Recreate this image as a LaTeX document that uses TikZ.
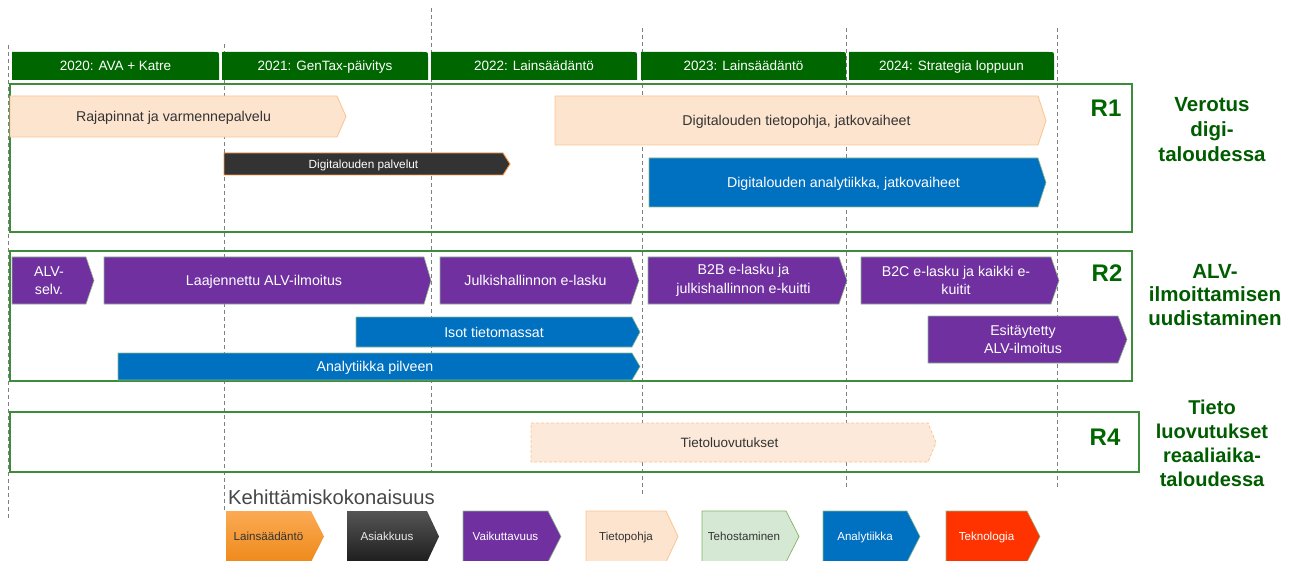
\documentclass[tikz,border=0pt]{standalone}
\usepackage{fontspec}
\setmainfont{Liberation Sans}
\definecolor{tabgreen}{HTML}{006600}
\definecolor{framegreen}{HTML}{3C8C3C}
\definecolor{peach}{HTML}{FDE4CF}
\definecolor{peachline}{HTML}{FAC48E}
\definecolor{darkbox}{HTML}{333333}
\definecolor{orangeline}{HTML}{F79646}
\definecolor{bluebox}{HTML}{0070C0}
\definecolor{purplebox}{HTML}{7030A0}
\definecolor{thinline}{HTML}{8DB88D}
\definecolor{labelgreen}{HTML}{005C00}
\definecolor{txt}{HTML}{333333}
\definecolor{dashgray}{HTML}{7F7F7F}
\definecolor{tehofill}{HTML}{D5E8D4}
\definecolor{tehoHline}{HTML}{82B366}
\definecolor{teknored}{HTML}{FF3300}
\definecolor{orangetop}{HTML}{FBAA55}
\definecolor{orangebot}{HTML}{EE8A1A}
\definecolor{graytop}{HTML}{555555}
\definecolor{graybot}{HTML}{1E1E1E}
\newcommand{\fs}[2]{\fontsize{#1}{#2}\selectfont}
% name, shape style, x1, xflat, xtip, y1, y2, text style, text
\newcommand{\chev}[9]{%
  \path[#2] (#3,#6) -- (#4,#6) -- (#5,{(#6+#7)/2}) -- (#4,#7) -- (#3,#7) -- cycle;
  \node[#8] (#1) at ({(#3+#4)/2},{(#6+#7)/2}) {#9};}
% name, x1, x2, text
\newcommand{\yeartab}[4]{%
  \fill[tabgreen] (#2,80) -- (#2,52) -- ({#3-5},52) .. controls (#3,52) .. (#3,57) -- (#3,80) -- cycle;
  \node[tabtext] (#1) at ({(#2+#3)/2},66) {#4};}
\begin{document}
\begin{tikzpicture}[x=1pt,y=-1pt,
  dashline/.style={draw=dashgray,line width=0.8pt,dash pattern=on 4pt off 3pt},
  frame/.style={draw=framegreen,line width=1.2pt},
  tabtext/.style={text=white,font=\fs{13.5}{16},inner sep=0pt,text height=9.7pt,text depth=0pt},
  peachbox/.style={fill=peach,draw=peachline,line width=0.8pt},
  peachdash/.style={fill=peach!80,draw=peachline,line width=0.8pt,dash pattern=on 3pt off 2pt},
  darkarrow/.style={fill=darkbox,draw=orangeline,line width=0.9pt},
  bluearrow/.style={fill=bluebox,draw=thinline,line width=0.6pt},
  purplearrow/.style={fill=purplebox,draw=thinline,line width=0.6pt},
  dtext/.style={text=txt,font=\fs{14.2}{18},inner sep=0pt,text height=10.2pt,text depth=0pt},
  wtext/.style={text=white,font=\fs{14.2}{18},inner sep=0pt,text height=10.2pt,text depth=0pt},
  wtwo/.style={text=white,font=\fs{14.2}{18.5},inner sep=0pt,align=center},
  wsmall/.style={text=white,font=\fs{11.8}{14},inner sep=0pt,text height=8.5pt,text depth=0pt},
  rlabel/.style={text=tabgreen,font=\bfseries\fs{24}{28},inner sep=0pt},
  sidelabel/.style={text=labelgreen,font=\bfseries\fs{20.5}{25},inner sep=0pt,align=center},
  legtext/.style={font=\fs{11.6}{13},inner sep=0pt,text height=8.3pt,text depth=0pt},
]
\useasboundingbox (0,0) rectangle (1290,561);
% guide lines
\draw[dashline] (8,45) -- (8,518);
\draw[dashline] (224,44) -- (224,510);
\draw[dashline] (431,8) -- (431,473);
\draw[dashline] (642,28) -- (642,494);
\draw[dashline] (846,28) -- (846,487);
\draw[dashline] (1057,28) -- (1057,487);
% year tabs
\yeartab{y2020}{12}{219}{2020:  AVA + Katre}
\yeartab{y2021}{222}{428}{2021:  GenTax-päivitys}
\yeartab{y2022}{431}{637}{2022:  Lainsäädäntö}
\yeartab{y2023}{641}{846}{2023:  Lainsäädäntö}
\yeartab{y2024}{849}{1054}{2024:  Strategia loppuun}
% frames
\draw[frame] (10,84) rectangle (1132,232);
\draw[frame] (10,251) rectangle (1132,381);
\draw[frame] (10,412) rectangle (1139,472);
% R1
\chev{rajapinnat}{peachbox}{10}{337}{346}{96}{137}{dtext}{Rajapinnat ja varmennepalvelu}
\chev{palvelut}{darkarrow}{224}{503}{510}{153}{175}{wsmall}{Digitalouden palvelut}
\chev{tietopohja}{peachbox}{555}{1038}{1046}{96}{145}{dtext}{Digitalouden tietopohja, jatkovaiheet}
\chev{analytiikka}{bluearrow}{649}{1038}{1046}{158}{207}{wtext}{Digitalouden analytiikka, jatkovaiheet}
\node[rlabel] (r1) at (1106,108) {R1};
\node[sidelabel] (verotus) at (1212,130) {Verotus\\digi-\\taloudessa};
% R2
\chev{alvselv}{purplearrow}{12}{86}{94}{257}{304}{wtwo}{ALV-\\selv.}
\chev{laajennettu}{purplearrow}{104}{424}{431}{257}{304}{wtext}{Laajennettu ALV-ilmoitus}
\chev{julkis}{purplearrow}{440}{631}{639}{257}{304}{wtext}{Julkishallinnon e-lasku}
\chev{b2b}{purplearrow}{648}{839}{847}{257}{304}{wtwo}{B2B e-lasku ja\\julkishallinnon e-kuitti}
\chev{b2c}{purplearrow}{861}{1051}{1059}{257}{304}{wtwo}{B2C e-lasku ja kaikki e-\\kuitit}
\chev{isot}{bluearrow}{356}{632}{640}{317}{347}{wtext}{Isot tietomassat}
\chev{pilveen}{bluearrow}{118}{632}{640}{353}{380}{wtext}{Analytiikka pilveen}
\chev{esitaytetty}{purplearrow}{928}{1118}{1127}{316}{363}{wtwo}{Esitäytetty\\ALV-ilmoitus}
\node[rlabel] (r2) at (1107,273) {R2};
\node[sidelabel,font=\bfseries\fs{20.5}{23.5}] (alvlabel) at (1215,295) {ALV-\\ilmoittamisen\\uudistaminen};
% R4
\chev{tietoluov}{peachdash}{531}{928}{936}{423}{462}{dtext,font=\fs{13.5}{16}}{Tietoluovutukset}
\node[rlabel] (r4) at (1105,437) {R4};
\node[sidelabel,font=\bfseries\fs{20}{24}] (tietolabel) at (1212,443) {Tieto\\luovutukset\\reaaliaika-\\taloudessa};
% legend
\node[anchor=west,text=txt!90,font=\fs{20.2}{22},inner sep=0pt] (kehitys) at (228,497) {Kehittämiskokonaisuus};
\chev{lLains}{top color=orangetop,bottom color=orangebot}{226}{311}{324}{511}{562}{legtext,text=txt}{Lainsäädäntö}
\chev{lAsiak}{top color=graytop,bottom color=graybot}{347}{427}{439}{511}{562}{legtext,text=white!92!black}{Asiakkuus}
\chev{lVaik}{purplearrow}{463}{548}{561}{511}{562}{legtext,text=white}{Vaikuttavuus}
\chev{lTieto}{peachbox}{586}{666}{678}{511}{562}{legtext,text=txt}{Tietopohja}
\chev{lTeho}{fill=tehofill,draw=tehoHline,line width=0.7pt}{702}{786}{799}{511}{562}{legtext,text=txt}{Tehostaminen}
\chev{lAnal}{bluearrow}{823}{907}{920}{511}{562}{legtext,text=white}{Analytiikka}
\chev{lTekno}{fill=teknored,draw=thinline,line width=0.6pt}{946}{1027}{1040}{511}{562}{legtext,text=white}{Teknologia}
\end{tikzpicture}
\end{document}
